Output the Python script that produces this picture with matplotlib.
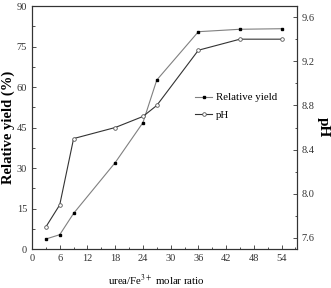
import matplotlib
matplotlib.use("Agg")
import matplotlib.pyplot as plt
from matplotlib.ticker import MultipleLocator

plt.rcParams['font.family'] = ['Liberation Serif', 'DejaVu Serif']
plt.rcParams['mathtext.fontset'] = 'stix'

# data
ratio = [3, 6, 9, 18, 24, 27, 36, 45, 54]
yield_pct = [3.7, 5.3, 13.2, 32.0, 46.8, 62.6, 80.5, 81.4, 81.6]
ph = [7.70, 7.90, 8.50, 8.60, 8.70, 8.80, 9.30, 9.40, 9.40]

fig = plt.figure(figsize=(3.31, 2.88), dpi=100)
ax1 = fig.add_axes([0.0967, 0.1354, 0.8, 0.8436])
ax2 = ax1.twinx()

edge = '#333333'
l1, = ax1.plot(ratio, yield_pct, color='#808080', lw=0.8, marker='s', ms=2,
               mfc='black', mec='black', label='Relative yield')
l2, = ax2.plot(ratio, ph, color='#333333', lw=0.8, marker='o', ms=2.6,
               mfc='white', mec='#555555', mew=0.6, label='pH')

ax1.set_xlim(0, 57.3)
ax1.set_ylim(0, 90)
ax2.set_ylim(7.5, 9.7)

ax1.xaxis.set_major_locator(MultipleLocator(6))
ax1.xaxis.set_minor_locator(MultipleLocator(3))
ax1.yaxis.set_major_locator(MultipleLocator(15))
ax1.yaxis.set_minor_locator(MultipleLocator(7.5))
ax2.yaxis.set_minor_locator(MultipleLocator(0.2))
ax2.set_yticks([7.6, 8.0, 8.4, 8.8, 9.2, 9.6])
ax2.set_yticklabels(['7.6', '8.0', '8.4', '8.8', '9.2', '9.6'])

for ax in (ax1, ax2):
    for s in ax.spines.values():
        s.set_color(edge)
        s.set_linewidth(0.8)
ax1.tick_params(which='both', direction='in', colors=edge, labelsize=7.5, width=0.6, top=False, right=False)
ax1.tick_params(which='major', length=3)
ax1.tick_params(which='minor', length=1.8)
ax2.tick_params(which='both', direction='in', colors=edge, labelsize=7.5, width=0.6)
ax2.tick_params(which='major', length=3)
ax2.tick_params(which='minor', length=1.8)

ax1.set_xlabel('urea/Fe$^{3+}$ molar ratio', fontsize=7.8)
ax1.xaxis.set_label_coords(0.47, -0.1)
ax1.set_ylabel('Relative yield (%)', fontsize=10.5, fontweight='bold')
ax1.yaxis.set_label_coords(-0.065, 0.5)
ax2.set_ylabel('pH', fontsize=11, fontweight='bold', rotation=270, labelpad=11)

ax2.legend([l1, l2], ['Relative yield', 'pH'], loc='upper left',
           bbox_to_anchor=(0.595, 0.665), frameon=False, fontsize=7.8,
           handlelength=1.6, handletextpad=0.3, borderpad=0, labelspacing=0.7)

fig.savefig('out.png', dpi=100)
